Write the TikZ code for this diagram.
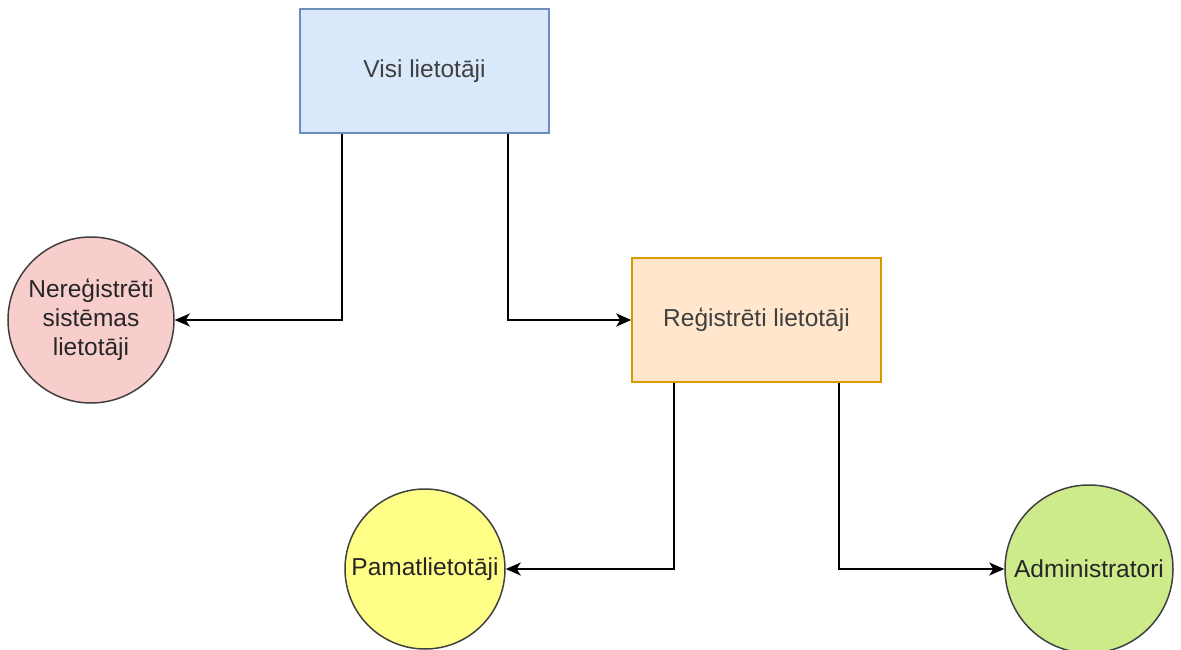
\documentclass[tikz,border=0pt]{standalone}
\usepackage{fontspec}
\setmainfont{Liberation Sans}
\usetikzlibrary{arrows.meta}
\definecolor{blueFill}{HTML}{DAE8FC}
\definecolor{blueLine}{HTML}{6C8EBF}
\definecolor{orangeFill}{HTML}{FFE6CC}
\definecolor{orangeLine}{HTML}{D79B00}
\definecolor{redFill}{HTML}{F8CECC}
\definecolor{yellowFill}{HTML}{FFFF88}
\definecolor{greenFill}{HTML}{CDEB8B}
\tikzset{
  box/.style = {draw, line width=1.5pt, minimum width=249pt, minimum height=124pt, inner sep=0pt,
                font=\fontsize{24.5}{29}\selectfont, text=black!75},
  user/.style = {circle, draw=black!75, line width=1.5pt, inner sep=0pt, align=center,
                 font=\fontsize{24.5}{29}\selectfont, text=black!85},
  conn/.style = {line width=2pt, -{Stealth[length=15pt,width=13pt,inset=4pt]}}
}
\begin{document}
\begin{tikzpicture}[x=1pt, y=-1pt]
	\useasboundingbox (0,0) rectangle (1181,650);
	\node[box, fill=blueFill, draw=blueLine] (visi) at (424.5,71) {Visi lietotāji};
	\node[box, fill=orangeFill, draw=orangeLine] (reg) at (756.5,320) {Reģistrēti lietotāji};
	\node[user, fill=redFill, minimum size=166pt] (nereg) at (91,320) {Nereģistrēti\\sistēmas\\lietotāji};
	\node[user, fill=yellowFill, minimum size=160pt] (pamat) at (425,569) {Pamatlietotāji};
	\node[user, fill=greenFill, minimum size=168pt] (admin) at (1089,569) {Administratori};
	\draw[conn] ([xshift=-82.5pt]visi.south) |- (nereg);
	\draw[conn] ([xshift=83.5pt]visi.south) |- (reg);
	\draw[conn] ([xshift=-82.5pt]reg.south) |- (pamat);
	\draw[conn] ([xshift=82.5pt]reg.south) |- (admin);
\end{tikzpicture}
\end{document}
